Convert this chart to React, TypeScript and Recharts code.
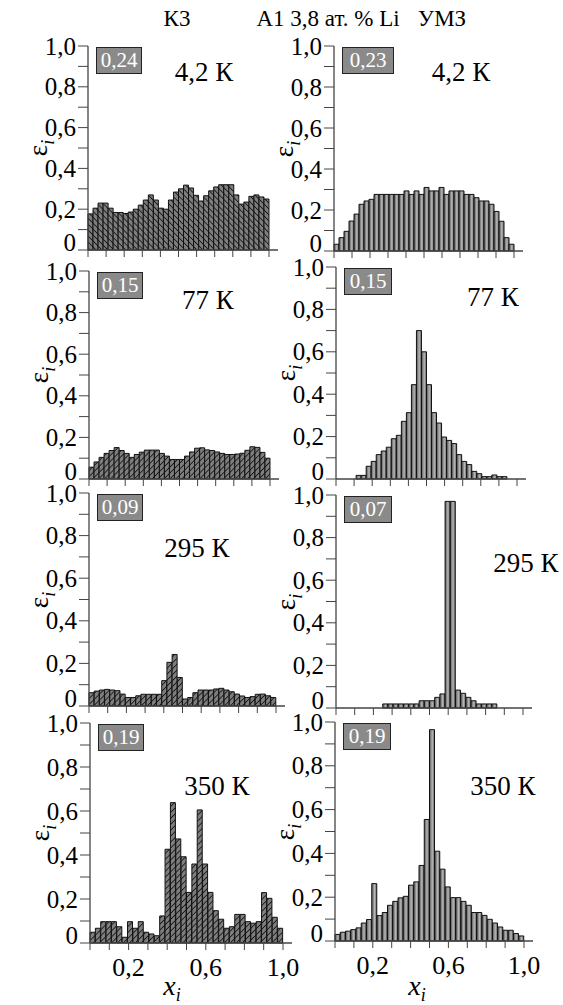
import React from "react";
import { BarChart, Bar, XAxis, YAxis } from "recharts";

const SERIF = "'Liberation Serif', 'Times New Roman', serif";
const AXIS = "#444";
const EXT = 9; // axis line runs a little past x = 1,0

// 36 bins over x_i in [0, 1]
const NBINS = 36;
const BIN_CENTERS = Array.from({ length: NBINS }, (_, i) => (i + 0.5) / NBINS);

const KZ_42 = [0.177, 0.205, 0.23, 0.23, 0.205, 0.184, 0.184, 0.179, 0.186, 0.2, 0.22, 0.245, 0.27, 0.245, 0.205, 0.2, 0.245, 0.284, 0.3, 0.318, 0.304, 0.268, 0.24, 0.266, 0.29, 0.309, 0.32, 0.32, 0.32, 0.27, 0.225, 0.235, 0.263, 0.27, 0.26, 0.25];
const UMZ_42 = [0.033, 0.065, 0.096, 0.146, 0.18, 0.228, 0.244, 0.252, 0.276, 0.276, 0.276, 0.276, 0.276, 0.276, 0.293, 0.276, 0.293, 0.276, 0.31, 0.293, 0.293, 0.31, 0.276, 0.293, 0.293, 0.293, 0.276, 0.276, 0.26, 0.244, 0.244, 0.228, 0.193, 0.145, 0.065, 0.033];
const KZ_77 = [0.057, 0.082, 0.104, 0.123, 0.137, 0.151, 0.137, 0.123, 0.104, 0.118, 0.129, 0.139, 0.139, 0.139, 0.123, 0.11, 0.094, 0.094, 0.094, 0.11, 0.13, 0.148, 0.15, 0.14, 0.137, 0.13, 0.123, 0.118, 0.118, 0.12, 0.124, 0.138, 0.155, 0.152, 0.128, 0.1];
const UMZ_77 = [0, 0, 0, 0, 0.017, 0.017, 0.06, 0.083, 0.115, 0.132, 0.15, 0.19, 0.206, 0.272, 0.313, 0.445, 0.7, 0.6, 0.445, 0.313, 0.264, 0.198, 0.182, 0.167, 0.115, 0.083, 0.068, 0.036, 0.025, 0.011, 0.011, 0.019, 0.011, 0.011, 0, 0];
const KZ_295 = [0.0625, 0.07, 0.075, 0.078, 0.075, 0.072, 0.056, 0.04, 0.04, 0.048, 0.055, 0.055, 0.055, 0.055, 0.119, 0.205, 0.242, 0.134, 0.033, 0.04, 0.0625, 0.075, 0.075, 0.075, 0.08, 0.083, 0.075, 0.067, 0.056, 0.047, 0.04, 0.044, 0.055, 0.056, 0.048, 0.04];
const UMZ_295 = [0, 0, 0, 0, 0, 0, 0, 0, 0, 0.019, 0.019, 0.019, 0.019, 0.019, 0.019, 0.019, 0.034, 0.034, 0.034, 0.05, 0.066, 0.97, 0.97, 0.084, 0.069, 0.05, 0.034, 0.019, 0.019, 0.019, 0.019, 0, 0, 0, 0, 0];
const KZ_350 = [0.049, 0.067, 0.097, 0.097, 0.097, 0.074, 0.026, 0.097, 0.067, 0.097, 0.049, 0.041, 0.033, 0.123, 0.426, 0.638, 0.473, 0.392, 0.23, 0.359, 0.605, 0.359, 0.23, 0.147, 0.108, 0.067, 0.074, 0.13, 0.13, 0.097, 0.09, 0.097, 0.229, 0.203, 0.117, 0.067];
const UMZ_350 = [0.03, 0.04, 0.045, 0.052, 0.06, 0.082, 0.098, 0.262, 0.116, 0.13, 0.163, 0.181, 0.197, 0.204, 0.255, 0.27, 0.345, 0.555, 0.965, 0.41, 0.328, 0.247, 0.198, 0.198, 0.181, 0.163, 0.13, 0.13, 0.117, 0.099, 0.082, 0.064, 0.049, 0.049, 0.034, 0.023];

const SHARES = ["0,24", "0,23", "0,15", "0,15", "0,09", "0,07", "0,19", "0,19"];
const TEMPS = ["4,2 К", "4,2 К", "77 К", "77 К", "295 К", "295 К", "350 К", "350 К"];
const TITLES = ["К3", "A1 3,8 ат. % Li", "УМЗ"];

const Y_TICKS = [0, 0.1, 0.2, 0.3, 0.4, 0.5, 0.6, 0.7, 0.8, 0.9, 1];
const Y_LABELS = ["0", "", "0,2", "", "0,4", "", "0,6", "", "0,8", "", "1,0"];
const X_TICKS = [0, 0.1, 0.2, 0.3, 0.4, 0.5, 0.6, 0.7, 0.8, 0.9, 1];
const X_LABELS = ["", "", "0,2", "", "", "", "0,6", "", "", "", "1,0"];

// layout: plot left/top in page px, axis span width, height of 0..1
const PANELS = [
  { id: "a", values: KZ_42, x: 88, y: 46, w: 181, h: 204, kind: "hatch", dir: -45, tx: 204, ty: 72, bw: 44 },
  { id: "b", values: UMZ_42, x: 334, y: 46, w: 180, h: 205, kind: "grad", dir: 0, tx: 461, ty: 72, bw: 50 },
  { id: "c", values: KZ_77, x: 89, y: 271, w: 181, h: 208, kind: "hatch", dir: 45, tx: 208, ty: 300, bw: 44 },
  { id: "d", values: UMZ_77, x: 336, y: 267, w: 181, h: 212, kind: "grad", dir: 0, tx: 493, ty: 297, bw: 46 },
  { id: "e", values: KZ_295, x: 89, y: 493, w: 187, h: 213, kind: "hatch", dir: 45, tx: 197, ty: 548, bw: 44 },
  { id: "f", values: UMZ_295, x: 336, y: 495, w: 187, h: 213, kind: "grad", dir: 0, tx: 526, ty: 563, bw: 46 },
  { id: "g", values: KZ_350, x: 90, y: 723, w: 193, h: 220, kind: "hatch", dir: 45, tx: 217, ty: 786, bw: 44 },
  { id: "h", values: UMZ_350, x: 335, y: 722, w: 189, h: 219, kind: "grad", dir: 0, tx: 503, ty: 786, bw: 46 },
];

function YTick(props: any) {
  const { x, y, payload } = props;
  const k = Math.round(payload.value * 10);
  const txt = Y_LABELS[k] || "";
  if (!txt) return <g />;
  return (
    <text x={x} y={k === 0 ? y - 8 : y} textAnchor="end" dominantBaseline="central"
      fontSize={25} fontFamily={SERIF} fill="#000">{txt}</text>
  );
}

function makeXTick(show: boolean) {
  return (props: any) => {
    const { x, y, payload } = props;
    const k = Math.round(payload.value * 10);
    const txt = show ? X_LABELS[k] : "";
    if (!txt) return <g />;
    return (
      <text x={x} y={y + 15} textAnchor="middle" dominantBaseline="central"
        fontSize={26} fontFamily={SERIF} fill="#000">{txt}</text>
    );
  };
}

function Panel({ p, bottom }: { p: any; bottom: boolean }) {
  const ML = 64, MT = 16, MR = 16;
  const MB = bottom ? 44 : 12;
  const data = p.values.map((v: number, i: number) => ({ x: BIN_CENTERS[i], v }));
  const fill = p.kind === "hatch" ? `url(#h${p.id})` : `url(#g${p.id})`;
  return (
    <div style={{ position: "absolute", left: p.x - ML, top: p.y - MT }}>
      <BarChart width={ML + p.w + EXT + MR} height={MT + p.h + MB} data={data}
        margin={{ top: MT, right: MR, bottom: 0, left: 0 }} barCategoryGap={0} barGap={0}>
        <defs>
          <pattern id={`h${p.id}`} patternUnits="userSpaceOnUse" width={4.2} height={4.2}
            patternTransform={`rotate(${p.dir})`}>
            <rect width={4.2} height={4.2} fill="#7e7e7e" />
            <line x1={0} y1={0} x2={0} y2={4.2} stroke="#161616" strokeWidth={1.7} />
          </pattern>
          <linearGradient id={`g${p.id}`} x1="0" y1="0" x2="1" y2="0">
            <stop offset="0" stopColor="#5e5e5e" />
            <stop offset="0.3" stopColor="#858585" />
            <stop offset="0.55" stopColor="#b6b6b6" />
            <stop offset="0.8" stopColor="#8a8a8a" />
            <stop offset="1" stopColor="#6a6a6a" />
          </linearGradient>
        </defs>
        <XAxis dataKey="x" type="number" domain={[0, 1]} ticks={X_TICKS}
          interval={0} height={MB} tickSize={7} tickMargin={2} padding={{ left: 0, right: EXT }}
          axisLine={{ stroke: AXIS, strokeWidth: 1.3 }} tickLine={{ stroke: AXIS }}
          tick={makeXTick(bottom)} />
        <YAxis type="number" domain={[0, 1]} ticks={Y_TICKS} interval={0} width={ML}
          tickSize={10} tickMargin={2} axisLine={{ stroke: AXIS, strokeWidth: 1.3 }}
          tickLine={{ stroke: AXIS }} tick={YTick} />
        <Bar dataKey="v" fill={fill} stroke="#111" strokeWidth={1}
          isAnimationActive={false} />
      </BarChart>
    </div>
  );
}

const abs = (x: number, y: number, extra: any = {}) => ({
  position: "absolute" as const, left: x, top: y, transform: "translate(-50%, -50%)",
  fontFamily: SERIF, whiteSpace: "nowrap" as const, color: "#000", lineHeight: 1, ...extra,
});

export default function App() {
  return (
    <div style={{ position: "absolute", left: 0, top: 0, width: 563, height: 1005, background: "#fff", overflow: "hidden" }}>
      {PANELS.map((p, i) => (
        <Panel key={p.id} p={p} bottom={i >= 6} />
      ))}
      <div style={abs(177, 18, { fontSize: 23 })}>{TITLES[0]}</div>
      <div style={abs(328, 18, { fontSize: 23 })}>{TITLES[1]}</div>
      <div style={abs(442, 18, { fontSize: 23 })}>{TITLES[2]}</div>
      {PANELS.map((p, i) => (
        <React.Fragment key={"o" + p.id}>
          <div style={{
            position: "absolute", left: p.x + 8, top: p.y + 1, width: p.bw, height: 25,
            background: "#8a8a8a", border: "1px solid #222", color: "#fff", fontFamily: SERIF,
            fontSize: 21, lineHeight: "25px", textAlign: "center",
          }}>{SHARES[i]}</div>
          <div style={abs(p.tx, p.ty, { fontSize: 27 })}>{TEMPS[i]}</div>
          <div style={abs(p.x - 47, p.y + p.h / 2, { fontSize: 27, transform: "translate(-50%, -50%) rotate(-90deg)" })}>
            ε<sub style={{ fontSize: 18, fontStyle: "italic" }}>i</sub>
          </div>
        </React.Fragment>
      ))}
      <div style={abs(172, 988, { fontSize: 28, fontStyle: "italic" })}>
        x<sub style={{ fontSize: 18 }}>i</sub>
      </div>
      <div style={abs(417, 988, { fontSize: 28, fontStyle: "italic" })}>
        x<sub style={{ fontSize: 18 }}>i</sub>
      </div>
    </div>
  );
}
